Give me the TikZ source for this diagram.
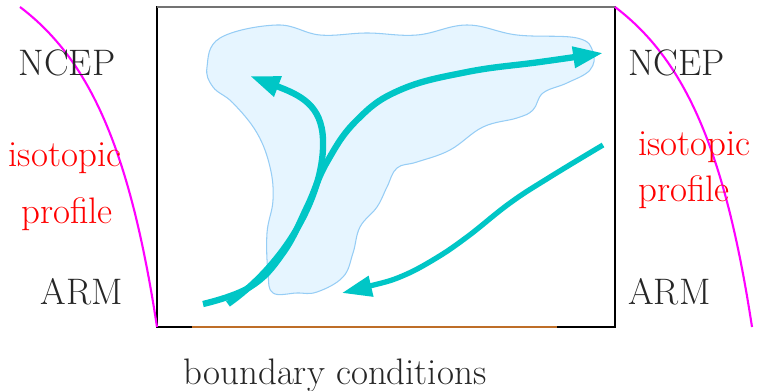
\documentclass[tikz,border=0pt]{standalone}
\usepackage{xcolor}
\usepackage{tikz}
\usetikzlibrary{arrows.meta,positioning,calc}
\definecolor{flowcyan}{RGB}{0,198,198}
\definecolor{blobfill}{RGB}{230,245,255}
\definecolor{blobline}{RGB}{150,205,245}
\definecolor{bcbrown}{RGB}{190,110,40}
\definecolor{profmag}{RGB}{255,0,255}
\tikzset{
    frame/.style={
        draw=black,
        line width=0.6pt
    },
    topedge/.style={
        draw=black!55,
        line width=1.2pt
    },
    bcline/.style={
        draw=bcbrown,
        line width=0.9pt
    },
    profcurve/.style={
        draw=profmag,
        line width=1.2pt
    },
    blob/.style={
        draw=blobline,
        fill=blobfill,
        line width=0.6pt
    },
    flow/.style={
        draw=flowcyan,
        line width=3.6pt,
        -{Triangle[length=17pt,width=11.5pt]}
    },
    thinflow/.style={
        flow,
        line width=3pt
    },
    lbl/.style={
        inner sep=0pt,
        anchor=base,
        text=black!85,
        font=\fontsize{21}{25}\selectfont
    },
    redlbl/.style={
        lbl,
        text=red
    }
}

\begin{document}
\begin{tikzpicture}[x=0.02cm, y=-0.02cm]
        \useasboundingbox (0,0) rectangle (757,391);

        \coordinate (domSW) at (157,327);
        \coordinate (domNE) at (615,7);

        \draw[blob] plot[smooth cycle, tension=0.65] coordinates {
            (207,67) (220,38) (277,25) (320,35) (367,33) (417,35) (467,25)
            (517,35) (577,38) (593,52) (590,70) (567,83) (543,93) (533,110)
            (517,118) (483,127) (450,150) (417,162) (397,168) (387,187)
            (377,207) (360,227) (353,253) (343,277) (317,292) (297,293)
            (273,293) (268,273) (267,233) (273,200) (270,167) (257,133)
            (233,103) (213,87)};

        \draw[frame] (domSW) rectangle (domNE);
        \draw[topedge] (domSW |- domNE) -- (domNE);
        \draw[bcline] (192,327) -- (557,327);

        \draw[profcurve] (20,7) .. controls (90,60) and (130,150) .. (domSW);
        \draw[profcurve] (domNE) .. controls (685,60) and (725,150) .. (752,327);

        \coordinate (bend) at (323,140);

        \draw[flow] plot[smooth, tension=0.7] coordinates {
            (203,304) (250,287) (283,253) (307,207) (327,162) (357,120)
            (400,90) (467,72) (540,62) (603,53)};
        \draw[flow] (228,304) .. controls (290,260) and (325,190) .. (bend)
            .. controls (322,105) and (300,95) .. (250,76);
        \draw[thinflow] plot[smooth, tension=0.7] coordinates {
            (603,145) (550,177) (510,203) (467,237) (433,260) (400,277)
            (370,286) (342,293)};

        \node[lbl] (ncepL) at (67,76) {NCEP};
        \node[lbl, anchor=base east] (armL) at (123,305) {ARM};
        \node[redlbl] (isoL) at (65,167) {isotopic};
        \node[redlbl] (profL) at (67,224) {profile};

        \node[lbl, anchor=base west] (ncepR) at (628,76) {NCEP};
        \node[lbl, anchor=base west] (armR) at (628,305) {ARM};
        \node[redlbl, anchor=base west] (isoR) at (638,156) {isotopic};
        \node[redlbl, anchor=base west] (profR) at (638,202) {profile};

        \node[lbl] (bc) at (335,384) {boundary conditions};
    \end{tikzpicture}
\end{document}
